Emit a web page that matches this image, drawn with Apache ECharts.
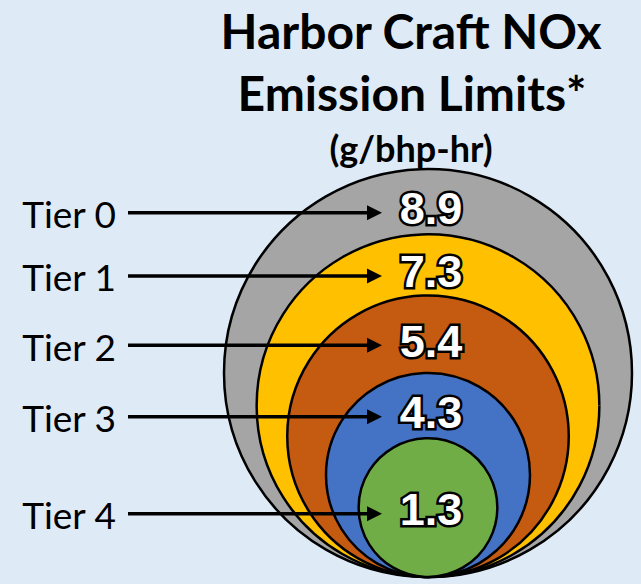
<!DOCTYPE html>
<html>
<head>
<meta charset="utf-8">
<title>Harbor Craft NOx Emission Limits</title>
<script src="https://cdn.jsdelivr.net/npm/echarts@6/dist/echarts.min.js"></script>
<style>
  html, body { margin: 0; padding: 0; background: #DEEBF7; }
  #chart { width: 641px; height: 584px; }
</style>
</head>
<body>
<div id="chart"></div>
<script>
  // 各级别名称与 NOx 限值 (g/bhp-hr)
  let tiers = ['Tier 0', 'Tier 1', 'Tier 2', 'Tier 3', 'Tier 4'];
  let limits = [8.9, 7.3, 5.4, 4.3, 1.3];
  // 各圆的相对直径（最大圆 = 100），从原图量出
  let ringSize = [100, 84, 69, 50, 34];

  let colorList = ['#A5A5A5', '#FFC000', '#C55A11', '#4472C4', '#70AD47'];

  let myChart = echarts.init(document.getElementById('chart'), null, { renderer: 'svg' });

  // 数值标签的纵向位置：落在本圆与下一个圆顶部之间
  function labelY(api, i) {
    let top = api.coord([0, ringSize[i]])[1];
    if (i < ringSize.length - 1) {
      let nextTop = api.coord([0, ringSize[i + 1]])[1];
      return (top + nextTop) / 2 + 7;
    }
    let bottom = api.coord([0, 0])[1];
    return (top + bottom) / 2 + 2;
  }

  let seriesData = tiers.map(function (t, i) {
    return { name: t, value: [0, ringSize[i], limits[i]] };
  });

  let option = {
    backgroundColor: '#DEEBF7',
    animation: false,
    grid: { left: 224, top: 169, width: 408, height: 408 },
    xAxis: { type: 'value', min: -50, max: 50, show: false },
    yAxis: { type: 'value', min: 0, max: 100, show: false },
    graphic: [
      { type: 'text', x: 411, y: 30,
        style: { text: 'Harbor Craft NOx', font: 'bold 48px Lato', fill: '#000', align: 'center', verticalAlign: 'middle' } },
      { type: 'text', x: 412, y: 92,
        style: { text: 'Emission Limits*', font: 'bold 48px Lato', fill: '#000', align: 'center', verticalAlign: 'middle' } },
      { type: 'text', x: 411, y: 148,
        style: { text: '(g/bhp-hr)', font: 'bold 36px Lato', fill: '#000', align: 'center', verticalAlign: 'middle' } }
    ],
    series: [
      {
        // 底部相切的嵌套圆
        type: 'custom',
        clip: false,
        encode: { x: 0, y: 1 },
        data: seriesData,
        renderItem: function (params, api) {
          let i = params.dataIndex;
          let bottom = api.coord([0, 0]);
          let top = api.coord([0, api.value(1)]);
          let r = (bottom[1] - top[1]) / 2;
          return {
            type: 'group',
            children: [
              {
                type: 'circle',
                shape: { cx: bottom[0], cy: top[1] + r, r: r },
                style: { fill: colorList[i], stroke: '#000', lineWidth: 2.5 }
              },
              {
                type: 'text',
                x: bottom[0] + 3,
                y: labelY(api, i),
                z2: 10,
                style: {
                  text: api.value(2).toFixed(1),
                  font: 'bold 45px "Liberation Sans"',
                  fill: '#fff',
                  stroke: '#000',
                  lineWidth: 5,
                  align: 'center',
                  verticalAlign: 'middle'
                }
              }
            ]
          };
        }
      },
      {
        // 左侧标签与箭头
        type: 'custom',
        clip: false,
        z: 5,
        encode: { x: 0, y: 1 },
        data: seriesData,
        renderItem: function (params, api) {
          let i = params.dataIndex;
          let cx = api.coord([0, 0])[0];
          let y = labelY(api, i) + 4;
          let x0 = 128;
          let tip = cx - 46;
          return {
            type: 'group',
            children: [
              {
                type: 'line',
                shape: { x1: x0, y1: y, x2: tip - 12, y2: y },
                style: { stroke: '#000', lineWidth: 3.5 }
              },
              {
                type: 'polygon',
                shape: { points: [[tip - 15, y - 7.5], [tip, y], [tip - 15, y + 7.5]] },
                style: { fill: '#000' }
              },
              {
                type: 'text',
                x: x0 - 12,
                y: y + 1,
                style: {
                  text: tiers[i],
                  font: '37px Lato',
                  fill: '#000',
                  align: 'right',
                  verticalAlign: 'middle'
                }
              }
            ]
          };
        }
      }
    ]
  };
  myChart.setOption(option);
</script>
</body>
</html>
